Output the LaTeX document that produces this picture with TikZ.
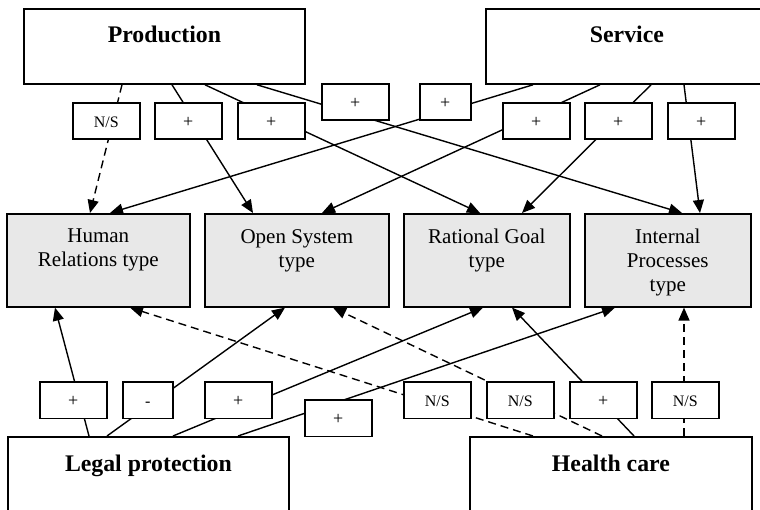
\documentclass[tikz,border=0pt]{standalone}
\usepackage{fontspec}
\setmainfont{Liberation Serif}
\usetikzlibrary{arrows.meta,calc}
\begin{document}
\begin{tikzpicture}[x=1pt,y=-1pt,
  bigbox/.style={draw, line width=1.8pt, inner sep=0pt, anchor=north west},
  typebox/.style={draw, line width=1.6pt, fill=black!9, inner sep=0pt, anchor=north west, minimum height=93pt},
  labbox/.style={draw, line width=1.6pt, fill=white, inner sep=0pt, anchor=north west, minimum height=36.5pt, minimum width=67pt, font=\fontsize{16}{18}\selectfont, text height=13pt, text depth=0pt},
  plus/.style={font=\fontsize{18}{20}\selectfont},
  title/.style={font=\fontsize{23.8}{28}\selectfont\bfseries, anchor=base, inner sep=0pt},
  typetext/.style={font=\fontsize{21}{24}\selectfont, align=center, anchor=north, inner sep=0pt},
  rel/.style={line width=1.4pt, -{Triangle[length=13pt,width=11pt]}},
  ns/.style={dash pattern=on 8pt off 5pt}
]
\useasboundingbox (0,0) rectangle (760,510);
\clip (0,0) rectangle (760,510);

% big boxes
\node[bigbox, minimum width=281pt, minimum height=75pt] (prod) at (23,8) {};
\node[title] (prodt) at ($(prod.north)+(0,35)$) {Production};
\node[bigbox, minimum width=282pt, minimum height=75pt] (serv) at (485,8) {};
\node[title] (servt) at ($(serv.north)+(0,35)$) {Service};
\node[bigbox, minimum width=281pt, minimum height=85pt] (legal) at (7,436) {};
\node[title] (legalt) at ($(legal.north)+(0,35.5)$) {Legal protection};
\node[bigbox, minimum width=282pt, minimum height=85pt] (health) at (469,436) {};
\node[title] (healtht) at ($(health.north)+(0,35.5)$) {Health care};

% type boxes
\node[typebox, minimum width=183pt] (hr) at (6,213) {};
\node[typetext] (hrt) at ($(hr.north)+(0,16)$) {Human\\Relations type};
\node[typebox, minimum width=184pt] (os) at (204,213) {};
\node[typetext] (ost) at ($(os.north)+(0,16)$) {Open System\\type};
\node[typebox, minimum width=166pt] (rg) at (403,213) {};
\node[typetext] (rgt) at ($(rg.north)+(0,16)$) {Rational Goal\\type};
\node[typebox, minimum width=166pt] (ip) at (584,213) {};
\node[typetext] (ipt) at ($(ip.north)+(0,16)$) {Internal\\Processes\\type};

% relations from Production
\draw[rel, ns] ($(prod.south west)+(99,0)$) -- ($(hr.north west)+(84,0)$);
\draw[rel] ($(prod.south west)+(149,0)$) -- ($(os.north west)+(49,0)$);
\draw[rel] ($(prod.south west)+(182,0)$) -- ($(rg.north west)+(77,0)$);
\draw[rel] ($(prod.south west)+(234,0)$) -- ($(ip.north west)+(98,0)$);
% relations from Service
\draw[rel] ($(serv.south west)+(48,0)$) -- ($(hr.north west)+(104,0)$);
\draw[rel] ($(serv.south west)+(115,0)$) -- ($(os.north west)+(118,0)$);
\draw[rel] ($(serv.south west)+(166,0)$) -- ($(rg.north west)+(119,0)$);
\draw[rel] ($(serv.south west)+(199,0)$) -- ($(ip.north west)+(116,0)$);
% relations from Legal protection
\draw[rel] ($(legal.north west)+(82,0)$) -- ($(hr.south west)+(49,0)$);
\draw[rel] ($(legal.north west)+(100,0)$) -- ($(os.south west)+(81,0)$);
\draw[rel] ($(legal.north west)+(166,0)$) -- ($(rg.south west)+(80,0)$);
\draw[rel] ($(legal.north west)+(231,0)$) -- ($(ip.south west)+(31,0)$);
% relations from Health care
\draw[rel, ns] ($(health.north west)+(64,0)$) -- ($(hr.south west)+(124,0)$);
\draw[rel, ns] ($(health.north west)+(133,0)$) -- ($(os.south west)+(129,0)$);
\draw[rel] ($(health.north west)+(165,0)$) -- ($(rg.south west)+(109,0)$);
\draw[rel, ns] ($(health.north west)+(215,0)$) -- ($(ip.south west)+(100,0)$);

% labels top
\node[labbox] (t1) at (72,102) {N/S};
\node[labbox, plus] (t2) at (154,102) {+};
\node[labbox, plus] (t3) at (237,102) {+};
\node[labbox, plus] (t4) at (321,83) {+};
\node[labbox, plus, minimum width=51pt] (t5) at (419,83) {+};
\node[labbox, plus] (t6) at (502,102) {+};
\node[labbox, plus] (t7) at (584,102) {+};
\node[labbox, plus] (t8) at (667,102) {+};
% labels bottom
\node[labbox, plus] (b1) at (39,381) {+};
\node[labbox, minimum width=50pt] (b2) at (122,381) {-};
\node[labbox, plus] (b3) at (204,381) {+};
\node[labbox, plus] (b4) at (304,399) {+};
\node[labbox] (b5) at (403,381) {N/S};
\node[labbox] (b6) at (486,381) {N/S};
\node[labbox, plus] (b7) at (569,381) {+};
\node[labbox] (b8) at (651,381) {N/S};
\end{tikzpicture}
\end{document}
